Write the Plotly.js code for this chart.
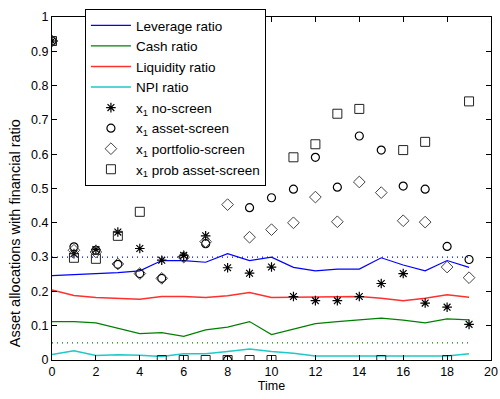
<!DOCTYPE html>
<html>
<head>
<meta charset="utf-8">
<script src="https://cdn.plot.ly/plotly-3.0.1.min.js"></script>
<style>html,body{margin:0;padding:0;background:#fff;}#chart{width:500px;height:399px;}</style>
</head>
<body>
<div id="chart"></div>
<script>
const time = [0,1,2,3,4,5,6,7,8,9,10,11,12,13,14,15,16,17,18,19];
const leverage  = [0.246,0.249,0.251,0.255,0.26,0.29,0.29,0.285,0.31,0.29,0.30,0.27,0.26,0.265,0.265,0.298,0.277,0.26,0.29,0.27];
const cash      = [0.112,0.112,0.108,0.092,0.077,0.080,0.069,0.088,0.096,0.112,0.074,0.090,0.106,0.112,0.116,0.122,0.116,0.108,0.120,0.117];
const liquidity = [0.204,0.188,0.182,0.180,0.177,0.185,0.185,0.182,0.187,0.197,0.182,0.183,0.183,0.185,0.185,0.180,0.173,0.180,0.190,0.183];
const npi       = [0.016,0.027,0.013,0.015,0.014,0.010,0.018,0.018,0.025,0.032,0.025,0.020,0.012,0.012,0.012,0.014,0.012,0.012,0.012,0.018];
const noScreen        = [0.93,0.31,0.322,0.373,0.325,0.291,0.305,0.362,0.269,0.253,0.271,0.185,0.173,0.173,0.185,0.223,0.252,0.166,0.154,0.104];
const assetScreen     = [0.93,0.33,0.32,0.279,0.252,0.238,0.30,0.339,0.0,0.444,0.473,0.498,0.591,0.504,0.653,0.612,0.507,0.498,0.331,0.293];
const portfolioScreen = [0.93,0.32,0.315,0.28,0.252,0.238,0.30,0.345,0.453,0.358,0.38,0.40,0.475,0.403,0.519,0.488,0.406,0.402,0.271,0.24];
const probAssetScreen = [0.93,0.298,0.295,0.362,0.432,0.0,0.0,0.0,0.0,0.0,0.0,0.591,0.629,0.718,0.732,0.0,0.612,0.636,0.0,0.754];
const refX = [0,19];
const leverageRef = [0.3,0.3];
const cashRef = [0.05,0.05];
const xTicks = [0,2,4,6,8,10,12,14,16,18,20];
const yTicks = [0,0.1,0.2,0.3,0.4,0.5,0.6,0.7,0.8,0.9,1];
const yTickText = ['0','0.1','0.2','0.3','0.4','0.5','0.6','0.7','0.8','0.9','1'];

const traces = [
  {x: time, y: leverage, mode:'lines', name:'Leverage ratio', line:{color:'#0000ff', width:1.2}},
  {x: time, y: cash, mode:'lines', name:'Cash ratio', line:{color:'#008000', width:1.2}},
  {x: time, y: liquidity, mode:'lines', name:'Liquidity ratio', line:{color:'#ff3030', width:1.5}},
  {x: time, y: npi, mode:'lines', name:'NPI ratio', line:{color:'#20c8c8', width:1.5}},
  {x: refX, y: leverageRef, mode:'lines', showlegend:false, line:{color:'#0000ff', width:1.2, dash:'1px,4px'}},
  {x: refX, y: cashRef, mode:'lines', showlegend:false, line:{color:'#008000', width:1.2, dash:'1px,4px'}},
  {x: time, y: noScreen, mode:'markers', name:'x<sub>1</sub> no-screen', marker:{symbol:'asterisk-open', size:8, color:'#000', line:{color:'#000', width:1.2}}},
  {x: time, y: assetScreen, mode:'markers', name:'x<sub>1</sub> asset-screen', marker:{symbol:'circle-open', size:8, color:'#000', line:{color:'#000', width:1.2}}},
  {x: time, y: portfolioScreen, mode:'markers', name:'x<sub>1</sub> portfolio-screen', marker:{symbol:'diamond-open', size:9, color:'#444', line:{color:'#444', width:1}}},
  {x: time, y: probAssetScreen, mode:'markers', name:'x<sub>1</sub> prob asset-screen', marker:{symbol:'square-open', size:9, color:'#222', line:{color:'#222', width:1}}}
];

const layout = {
  width:500, height:399,
  margin:{l:52, r:9, t:14, b:39},
  paper_bgcolor:'#fff', plot_bgcolor:'#fff',
  font:{family:'Liberation Sans, Arial, sans-serif', size:12, color:'#000'},
  showlegend:true,
  legend:{x:0.075, y:1.023, xanchor:'left', yanchor:'top', bgcolor:'#fff', bordercolor:'#000', borderwidth:1,
          font:{size:13.5, color:'#000'}, tracegroupgap:0, itemwidth:40},
  xaxis:{range:[0,20], tickvals:xTicks, ticks:'inside', ticklen:5, tickcolor:'#000',
         showline:true, linecolor:'#000', linewidth:1, mirror:'ticks', showgrid:false, zeroline:false,
         tickfont:{size:12.5},
         title:{text:'Time', standoff:2, font:{size:12.5}}},
  yaxis:{range:[0,1], tickvals:yTicks, ticktext:yTickText,
         ticks:'inside', ticklen:5, tickcolor:'#000',
         showline:true, linecolor:'#000', linewidth:1, mirror:'ticks', showgrid:false, zeroline:false,
         tickfont:{size:12.5}},
  annotations:[{text:'Asset allocations with financial ratio', textangle:-90, xref:'paper', yref:'paper',
                x:-0.084, y:0.37, xanchor:'center', yanchor:'middle', showarrow:false,
                font:{size:14.5, color:'#000'}}]
};
Plotly.newPlot('chart', traces, layout, {displayModeBar:false, staticPlot:true});
</script>
</body>
</html>
